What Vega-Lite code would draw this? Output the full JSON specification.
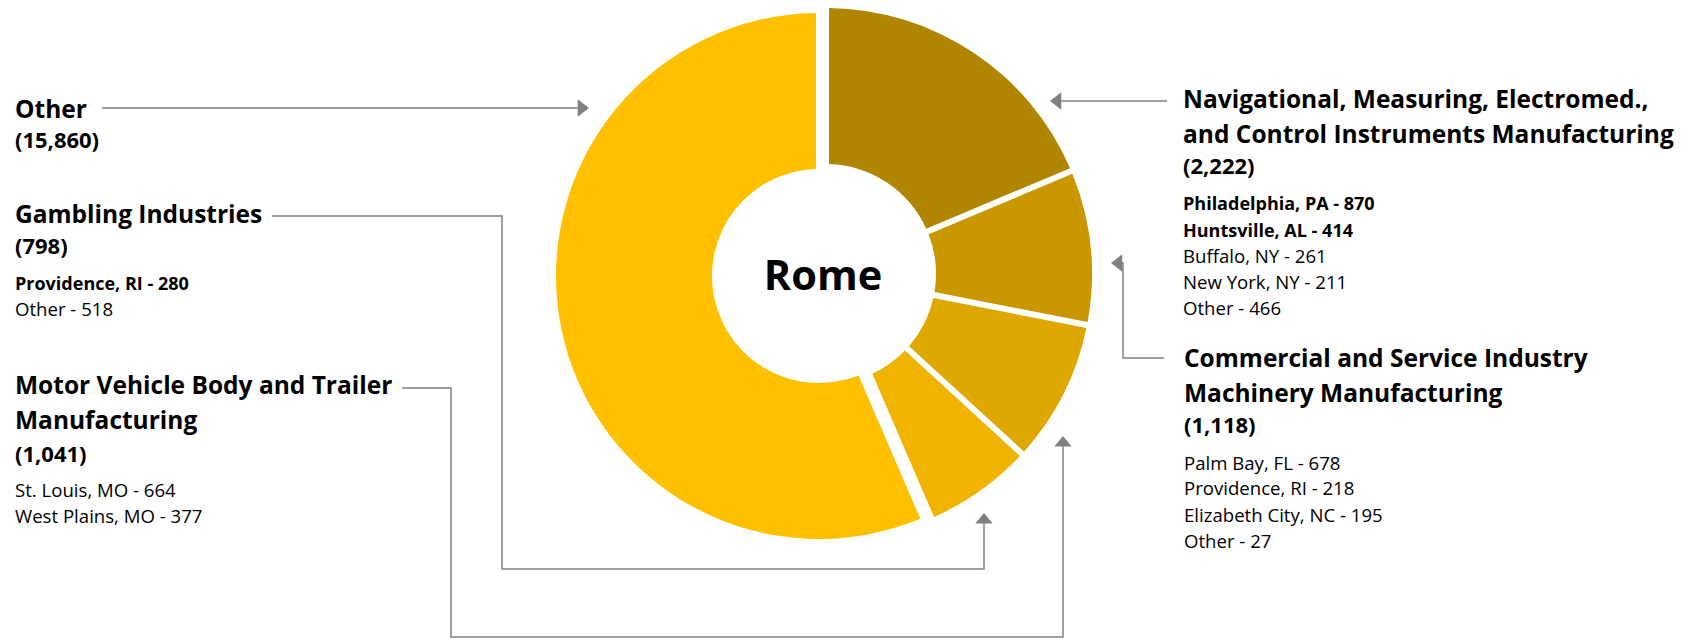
{
  "$schema": "https://vega.github.io/schema/vega-lite/v6.json",
  "width": 1684,
  "height": 639,
  "padding": 0,
  "autosize": {"type": "none"},
  "background": "white",
  "config": {"view": {"stroke": null}},
  "datasets": {
    "slices": [
      {"short": "Navigational", "rank": 1, "employment": 2222, "arc_size": 2222},
      {"short": "Commercial", "rank": 2, "employment": 1118, "arc_size": 1118},
      {"short": "Motor Vehicle", "rank": 3, "employment": 1041, "arc_size": 1041},
      {"short": "Gambling", "rank": 4, "employment": 798, "arc_size": 798},
      {"short": "Other", "rank": 5, "employment": 15860, "arc_size": 6720}
    ],
    "labels": [
      {"block": "Other", "role": "head", "text": "Other", "x": 15, "y": 118},
      {"block": "Other", "role": "value", "text": "(15,860)", "x": 15, "y": 148},
      {"block": "Gambling", "role": "head", "text": "Gambling Industries", "x": 15, "y": 223},
      {"block": "Gambling", "role": "value", "text": "(798)", "x": 15, "y": 254},
      {"block": "Gambling", "role": "cityBold", "text": "Providence, RI - 280", "x": 15, "y": 290},
      {"block": "Gambling", "role": "city", "text": "Other - 518", "x": 15, "y": 316},
      {"block": "Motor Vehicle", "role": "head", "text": "Motor Vehicle Body and Trailer", "x": 15, "y": 394},
      {"block": "Motor Vehicle", "role": "head", "text": "Manufacturing", "x": 15, "y": 429},
      {"block": "Motor Vehicle", "role": "value", "text": "(1,041)", "x": 15, "y": 462},
      {"block": "Motor Vehicle", "role": "city", "text": "St. Louis, MO - 664", "x": 15, "y": 497},
      {"block": "Motor Vehicle", "role": "city", "text": "West Plains, MO - 377", "x": 15, "y": 523},
      {"block": "Navigational", "role": "head", "text": "Navigational, Measuring, Electromed.,", "x": 1183, "y": 108},
      {"block": "Navigational", "role": "head", "text": "and Control Instruments Manufacturing", "x": 1183, "y": 143},
      {"block": "Navigational", "role": "value", "text": "(2,222)", "x": 1183, "y": 174},
      {"block": "Navigational", "role": "cityBold", "text": "Philadelphia, PA - 870", "x": 1183, "y": 210},
      {"block": "Navigational", "role": "cityBold", "text": "Huntsville, AL - 414", "x": 1183, "y": 237},
      {"block": "Navigational", "role": "city", "text": "Buffalo, NY - 261", "x": 1183, "y": 263},
      {"block": "Navigational", "role": "city", "text": "New York, NY - 211", "x": 1183, "y": 289},
      {"block": "Navigational", "role": "city", "text": "Other - 466", "x": 1183, "y": 315},
      {"block": "Commercial", "role": "head", "text": "Commercial and Service Industry", "x": 1184, "y": 367},
      {"block": "Commercial", "role": "head", "text": "Machinery Manufacturing", "x": 1184, "y": 402},
      {"block": "Commercial", "role": "value", "text": "(1,118)", "x": 1184, "y": 433},
      {"block": "Commercial", "role": "city", "text": "Palm Bay, FL - 678", "x": 1184, "y": 470},
      {"block": "Commercial", "role": "city", "text": "Providence, RI - 218", "x": 1184, "y": 495},
      {"block": "Commercial", "role": "city", "text": "Elizabeth City, NC - 195", "x": 1184, "y": 522},
      {"block": "Commercial", "role": "city", "text": "Other - 27", "x": 1184, "y": 548}
    ],
    "connectors": [
      {"conn": "Other", "step": 1, "x": 102, "y": 108},
      {"conn": "Other", "step": 2, "x": 580, "y": 108},
      {"conn": "Gambling", "step": 1, "x": 272, "y": 216},
      {"conn": "Gambling", "step": 2, "x": 502, "y": 216},
      {"conn": "Gambling", "step": 3, "x": 502, "y": 569},
      {"conn": "Gambling", "step": 4, "x": 984, "y": 569},
      {"conn": "Gambling", "step": 5, "x": 984, "y": 520},
      {"conn": "Motor Vehicle", "step": 1, "x": 402, "y": 388},
      {"conn": "Motor Vehicle", "step": 2, "x": 451, "y": 388},
      {"conn": "Motor Vehicle", "step": 3, "x": 451, "y": 637},
      {"conn": "Motor Vehicle", "step": 4, "x": 1063, "y": 637},
      {"conn": "Motor Vehicle", "step": 5, "x": 1063, "y": 443},
      {"conn": "Navigational", "step": 1, "x": 1167, "y": 101},
      {"conn": "Navigational", "step": 2, "x": 1058, "y": 101},
      {"conn": "Commercial", "step": 1, "x": 1164, "y": 358},
      {"conn": "Commercial", "step": 2, "x": 1123, "y": 358},
      {"conn": "Commercial", "step": 3, "x": 1123, "y": 263},
      {"conn": "Commercial", "step": 4, "x": 1118, "y": 263}
    ],
    "arrows": [
      {"conn": "Other", "dir": "right", "x": 589, "y": 108},
      {"conn": "Gambling", "dir": "up", "x": 984, "y": 513},
      {"conn": "Motor Vehicle", "dir": "up", "x": 1063, "y": 436},
      {"conn": "Navigational", "dir": "left", "x": 1050, "y": 101},
      {"conn": "Commercial", "dir": "left", "x": 1111, "y": 263}
    ],
    "center": [{"place": "Rome"}]
  },
  "layer": [
    {
      "data": {"name": "slices"},
      "mark": {"type": "arc", "outerRadius": 263, "innerRadius": 107, "padAngle": 0.021},
      "encoding": {
        "theta": {"field": "arc_size", "type": "quantitative", "stack": true},
        "order": {"field": "rank", "type": "quantitative"},
        "color": {
          "field": "short", "type": "nominal", "legend": null,
          "scale": {"domain": ["Navigational", "Commercial", "Motor Vehicle", "Gambling", "Other"],
                    "range": ["#B08500", "#C99700", "#DEA800", "#F0B400", "#FFC000"]}
        },
        "opacity": {"condition": {"test": "datum.short === 'Other'", "value": 1}, "value": 0},
        "x": {"datum": 819, "type": "quantitative", "scale": {"domain": [0, 1684], "nice": false, "zero": false}, "axis": null},
        "y": {"datum": 276, "type": "quantitative", "scale": {"domain": [0, 639], "nice": false, "zero": false, "reverse": true}, "axis": null}
      }
    },
    {
      "data": {"name": "slices"},
      "mark": {"type": "arc", "outerRadius": 266, "innerRadius": 110, "padAngle": 0.021},
      "encoding": {
        "theta": {"field": "arc_size", "type": "quantitative", "stack": true},
        "order": {"field": "rank", "type": "quantitative"},
        "color": {
          "field": "short", "type": "nominal", "legend": null,
          "scale": {"domain": ["Navigational", "Commercial", "Motor Vehicle", "Gambling", "Other"],
                    "range": ["#B08500", "#C99700", "#DEA800", "#F0B400", "#FFC000"]}
        },
        "opacity": {"condition": {"test": "datum.short === 'Other'", "value": 0}, "value": 1},
        "x": {"datum": 826, "type": "quantitative", "scale": {"domain": [0, 1684], "nice": false, "zero": false}, "axis": null},
        "y": {"datum": 274, "type": "quantitative", "scale": {"domain": [0, 639], "nice": false, "zero": false, "reverse": true}, "axis": null}
      }
    },
    {
      "data": {"name": "center"},
      "mark": {"type": "text", "align": "center", "baseline": "alphabetic", "font": "Open Sans", "fontSize": 41.5, "fontWeight": "bold", "color": "#000000"},
      "encoding": {
        "text": {"field": "place"},
        "x": {"datum": 823, "type": "quantitative", "scale": {"domain": [0, 1684], "nice": false, "zero": false}, "axis": null},
        "y": {"datum": 290, "type": "quantitative", "scale": {"domain": [0, 639], "nice": false, "zero": false, "reverse": true}, "axis": null}
      }
    },
    {
      "data": {"name": "connectors"},
      "mark": {"type": "line", "color": "#808080", "strokeWidth": 1.5, "strokeCap": "butt", "strokeJoin": "miter"},
      "encoding": {
        "detail": {"field": "conn"},
        "order": {"field": "step", "type": "quantitative"},
        "x": {"field": "x", "type": "quantitative", "scale": {"domain": [0, 1684], "nice": false, "zero": false}, "axis": null},
        "y": {"field": "y", "type": "quantitative", "scale": {"domain": [0, 639], "nice": false, "zero": false, "reverse": true}, "axis": null}
      }
    },
    {
      "data": {"name": "arrows"},
      "mark": {"type": "point", "filled": true, "color": "#808080", "opacity": 1, "size": 300, "strokeWidth": 0},
      "encoding": {
        "shape": {"field": "dir", "type": "nominal", "legend": null,
                  "scale": {"domain": ["up", "left", "right"],
                            "range": ["M0,0L1,1.2L-1,1.2Z", "M0,0L1.3,-1L1.3,1Z", "M0,0L-1.3,-1L-1.3,1Z"]}},
        "x": {"field": "x", "type": "quantitative", "scale": {"domain": [0, 1684], "nice": false, "zero": false}, "axis": null},
        "y": {"field": "y", "type": "quantitative", "scale": {"domain": [0, 639], "nice": false, "zero": false, "reverse": true}, "axis": null}
      }
    },
    {
      "data": {"name": "labels"},
      "transform": [{"filter": "datum.role === 'head'"}],
      "mark": {"type": "text", "align": "left", "baseline": "alphabetic", "font": "Open Sans", "fontSize": 24.5, "fontWeight": "bold", "color": "#000000"},
      "encoding": {
        "text": {"field": "text"},
        "x": {"field": "x", "type": "quantitative", "scale": {"domain": [0, 1684], "nice": false, "zero": false}, "axis": null},
        "y": {"field": "y", "type": "quantitative", "scale": {"domain": [0, 639], "nice": false, "zero": false, "reverse": true}, "axis": null}
      }
    },
    {
      "data": {"name": "labels"},
      "transform": [{"filter": "datum.role === 'value'"}],
      "mark": {"type": "text", "align": "left", "baseline": "alphabetic", "font": "Open Sans", "fontSize": 22, "fontWeight": "bold", "color": "#000000"},
      "encoding": {
        "text": {"field": "text"},
        "x": {"field": "x", "type": "quantitative", "scale": {"domain": [0, 1684], "nice": false, "zero": false}, "axis": null},
        "y": {"field": "y", "type": "quantitative", "scale": {"domain": [0, 639], "nice": false, "zero": false, "reverse": true}, "axis": null}
      }
    },
    {
      "data": {"name": "labels"},
      "transform": [{"filter": "datum.role === 'cityBold'"}],
      "mark": {"type": "text", "align": "left", "baseline": "alphabetic", "font": "Open Sans", "fontSize": 18, "fontWeight": "bold", "color": "#000000"},
      "encoding": {
        "text": {"field": "text"},
        "x": {"field": "x", "type": "quantitative", "scale": {"domain": [0, 1684], "nice": false, "zero": false}, "axis": null},
        "y": {"field": "y", "type": "quantitative", "scale": {"domain": [0, 639], "nice": false, "zero": false, "reverse": true}, "axis": null}
      }
    },
    {
      "data": {"name": "labels"},
      "transform": [{"filter": "datum.role === 'city'"}],
      "mark": {"type": "text", "align": "left", "baseline": "alphabetic", "font": "Open Sans", "fontSize": 18.6, "fontWeight": "normal", "color": "#000000"},
      "encoding": {
        "text": {"field": "text"},
        "x": {"field": "x", "type": "quantitative", "scale": {"domain": [0, 1684], "nice": false, "zero": false}, "axis": null},
        "y": {"field": "y", "type": "quantitative", "scale": {"domain": [0, 639], "nice": false, "zero": false, "reverse": true}, "axis": null}
      }
    }
  ]
}
